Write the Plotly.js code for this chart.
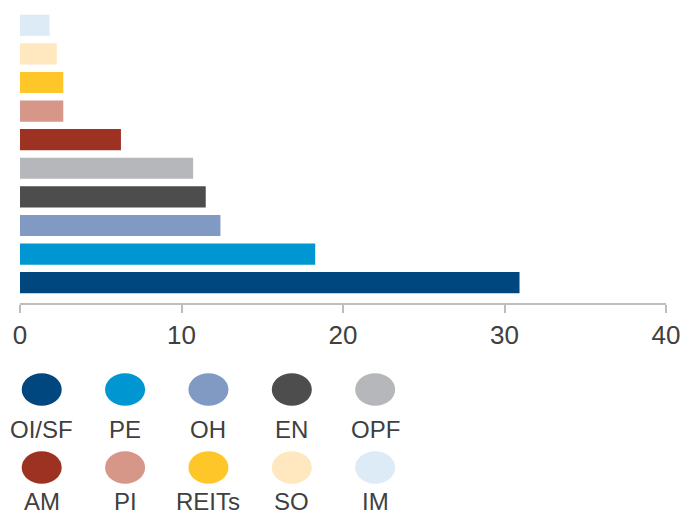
<!DOCTYPE html>
<html>
<head>
<meta charset="utf-8">
<script src="https://cdn.plot.ly/plotly-3.0.1.min.js"></script>
<style>html,body{margin:0;padding:0;background:#fff;}#chart{width:683px;height:514px;}</style>
</head>
<body>
<div id="chart"></div>
<script>
// Data
const categories = ["OI/SF", "PE", "OH", "EN", "OPF", "AM", "PI", "REITs", "SO", "IM"];
const values = [30.93, 18.28, 12.41, 11.5, 10.72, 6.25, 2.68, 2.68, 2.28, 1.83];
const colors = ["#00477F", "#0096D1", "#819AC3", "#4D4D4D", "#B6B7BB", "#9E3222", "#D69788", "#FFC629", "#FFE8BF", "#DDEBF7"];
const xTicks = [0, 10, 20, 30, 40];

const FONT = "Liberation Sans, Arial, sans-serif";
const TEXT = "#404040";

// Legend layout (pixel-like coordinates of the legend axes)
const legCols = 5, legX0 = 41.7, legDX = 83.3;
const rowCircleY = [389.5, 467.5];
const rowLabelY = [429.5, 501.0];
const ellRX = 20, ellRY = 16.2;

const shapes = [];
const annotations = [];
categories.forEach((c, i) => {
  const col = i % legCols, row = Math.floor(i / legCols);
  const cx = legX0 + col * legDX, cy = rowCircleY[row];
  shapes.push({type: "circle", xref: "x2", yref: "y2",
    x0: cx - ellRX, x1: cx + ellRX, y0: cy - ellRY, y1: cy + ellRY,
    fillcolor: colors[i], line: {width: 0}, layer: "above"});
  annotations.push({xref: "x2", yref: "y2", x: cx, y: rowLabelY[row],
    text: c, showarrow: false, xanchor: "center", yanchor: "middle",
    font: {family: FONT, size: 24, color: TEXT}});
});

const data = [{
  type: "bar", orientation: "h",
  x: values, y: categories,
  marker: {color: colors, line: {width: 0}},
  hoverinfo: "x+y", xaxis: "x", yaxis: "y"
}];

const layout = {
  width: 683, height: 514,
  margin: {l: 20, r: 17, t: 11, b: 0},
  paper_bgcolor: "#fff", plot_bgcolor: "rgba(0,0,0,0)",
  showlegend: false,
  bargap: 0.26,
  font: {family: FONT, color: TEXT},
  xaxis: {domain: [0, 1], range: [0, 40], tickvals: xTicks, ticktext: xTicks.map(String),
    showgrid: false, zeroline: false, showline: true, linecolor: "#BDBDBD", linewidth: 2,
    ticks: "outside", ticklen: 8, tickwidth: 2, tickcolor: "#BDBDBD",
    tickfont: {family: FONT, size: 26, color: TEXT}, fixedrange: true},
  yaxis: {domain: [0.4195, 1], type: "category", range: [-0.71, 9.5],
    visible: false, fixedrange: true},
  xaxis2: {domain: [0, 1], range: [20, 665.5], visible: false, anchor: "y2", fixedrange: true},
  yaxis2: {domain: [0, 0.4195], range: [514, 303], visible: false, anchor: "x2", fixedrange: true},
  shapes: shapes,
  annotations: annotations
};

Plotly.newPlot("chart", data, layout, {displayModeBar: false, staticPlot: true});
</script>
</body>
</html>
